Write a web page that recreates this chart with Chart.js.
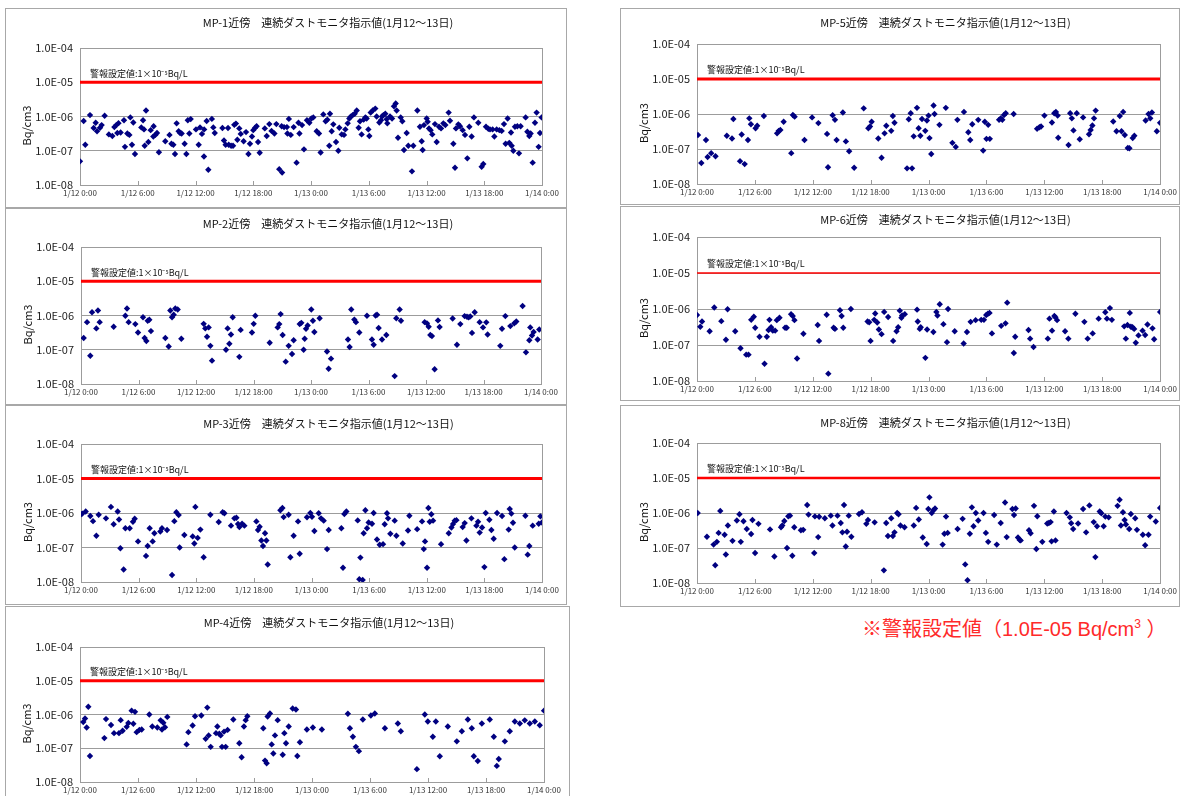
<!DOCTYPE html>
<html lang="ja">
<head>
<meta charset="utf-8">
<title>連続ダストモニタ指示値</title>
<script src="https://cdn.jsdelivr.net/npm/chart.js@4.4.1/dist/chart.umd.min.js"></script>
<style>
  html, body { margin: 0; padding: 0; background: #fff; }
  body { width: 1182px; height: 796px; position: relative; overflow: hidden; font-family: "Noto Sans CJK JP", sans-serif; }
  .panel { position: absolute; outline: 1px solid #a8a8a8; outline-offset: -1px; background: #fff; }
  .panel canvas { position: absolute; left: 0; top: 0; }
  #note { position: absolute; left: 862px; top: 618px; font-family: "Liberation Sans", "Noto Sans CJK JP", sans-serif; font-size: 20px; line-height: 1; color: #ff2a2a; white-space: nowrap; }
  #note sup { font-size: 12px; vertical-align: 8px; }
</style>
</head>
<body>
<div id="note">※警報設定値（1.0E-05 Bq/cm<sup>3</sup> ）</div>
<script>
// DATA
// -----------------------------------------------------------------------------
// x = hours since 1/12 0:00, y = Bq/cm3
var xTickLabels = ['1/12 0:00', '1/12 6:00', '1/12 12:00', '1/12 18:00', '1/13 0:00',
                   '1/13 6:00', '1/13 12:00', '1/13 18:00', '1/14 0:00'];
var yTickValues = [1e-8, 1e-7, 1e-6, 1e-5, 1e-4];
var yTickLabels = ['1.0E-08', '1.0E-07', '1.0E-06', '1.0E-05', '1.0E-04'];
var xRange = [0, 48];
var alarmLevel = 1e-5;
var alarmText = '警報設定値:1×10⁻⁵Bq/L';
var titleText = '近傍　連続ダストモニタ指示値(1月12～13日)';

var mp1 = [[0,4.9e-8],[0.38,7.4e-7],[0.55,1.5e-7],[1.04,1.1e-6],[1.42,4.6e-7],[1.63,6.6e-7],[1.77,3.7e-7],[2.08,4.7e-7],[2.25,5.6e-7],[2.56,1.05e-6],
  [3.0,3.0e-7],[3.36,2.7e-7],[3.57,4.9e-7],[3.77,5.6e-7],[3.88,3.3e-7],[4.0,6.4e-7],[4.22,3.4e-7],[4.57,7.8e-7],[4.67,1.3e-7],[4.92,3.2e-7],
  [5.13,2.9e-7],[5.23,9.4e-7],[5.4,1.5e-7],[5.54,6.7e-7],[5.71,8.0e-8],[6.37,4.8e-7],[6.55,7.8e-7],[6.65,4.2e-7],[6.72,1.4e-7],[6.86,1.5e-6],
  [7.1,1.8e-7],[7.34,4.0e-7],[7.62,2.6e-7],[7.65,5.2e-7],[7.83,2.9e-7],[8.0,3.3e-7],[8.2,9.0e-8],[8.86,1.9e-7],[9.3,2.9e-7],[9.5,1.6e-7],
  [9.7,1.5e-7],[9.87,8.0e-8],[10.04,6.3e-7],[10.25,3.7e-7],[10.4,3.3e-7],[10.56,3.2e-7],[10.87,1.6e-7],[11.05,8.0e-8],[11.2,7.8e-7],[11.36,3.2e-7],
  [11.5,8.4e-7],[12.05,4.2e-7],[12.33,1.5e-7],[12.47,4.8e-7],[12.67,3.1e-7],[12.88,6.8e-8],[12.9,4.2e-7],[13.16,7.4e-7],[13.33,2.8e-8],[13.7,8.5e-7],
  [13.85,4.8e-7],[14.0,3.3e-7],[14.8,4.6e-7],[14.96,2.0e-7],[15.13,1.5e-7],[15.38,4.6e-7],[15.45,1.5e-7],[15.7,1.4e-7],[15.9,1.4e-7],[16.03,5.7e-7],
  [16.2,6.2e-7],[16.35,2.1e-7],[16.55,4.5e-7],[16.7,3.1e-7],[17.0,1.9e-7],[17.25,3.5e-7],[17.5,8.0e-8],[17.66,1.6e-7],[17.87,2.6e-7],[18.0,4.0e-7],
  [18.2,4.7e-7],[18.35,5.2e-7],[18.5,1.8e-7],[18.67,8.7e-8],[19.2,4.5e-7],[19.4,2.7e-7],[19.67,6.0e-7],[19.9,3.8e-7],[20.2,3.2e-7],[20.4,6.0e-7],
  [20.7,2.9e-8],[20.95,5.2e-7],[21.0,2.3e-8],[21.2,4.9e-7],[21.5,4.9e-7],[21.55,3.2e-7],[21.7,8.5e-7],[21.9,2.9e-7],[22.2,4.9e-7],[22.5,4.5e-8],
  [22.7,6.6e-7],[22.8,3.2e-7],[23.07,5.6e-7],[23.27,1.1e-7],[23.58,7.8e-7],[23.83,6.6e-7],[24.04,8.7e-7],[24.24,9.4e-7],[24.59,3.7e-7],[24.83,3.2e-7],
  [25.0,8.9e-8],[25.28,1.15e-6],[25.52,7.3e-7],[25.7,8.1e-7],[25.9,1.4e-7],[25.97,1.2e-6],[26.15,3.7e-7],[26.32,5.9e-7],[26.6,1.8e-7],[26.84,1.0e-7],
  [26.94,4.7e-7],[27.19,3.0e-7],[27.43,2.9e-7],[27.57,4.2e-7],[27.81,6.3e-7],[27.98,8.7e-7],[28.12,9.8e-7],[28.33,1.1e-6],[28.54,1.2e-6],[28.75,1.5e-6],
  [28.95,4.7e-7],[29.09,7.3e-7],[29.26,3.0e-7],[29.47,8.1e-7],[29.65,9.4e-7],[29.78,8.7e-7],[29.96,4.2e-7],[30.06,2.7e-7],[30.2,1.3e-6],[30.41,1.5e-6],
  [30.68,1.7e-6],[30.82,1.0e-6],[31.1,6.7e-7],[31.27,7.8e-7],[31.38,1.0e-6],[31.52,1.1e-6],[31.72,1.2e-6],[31.86,8.3e-7],[31.93,6.3e-7],[32.21,1.0e-6],
  [32.42,8.7e-7],[32.62,2.0e-6],[32.8,2.4e-6],[32.9,1.5e-6],[33.04,2.4e-7],[33.32,9.4e-7],[33.49,7.3e-7],[33.66,1.05e-7],[33.94,3.3e-7],[34.11,1.4e-7],
  [34.49,2.5e-8],[34.63,1.4e-7],[35.05,1.5e-6],[35.32,5.0e-7],[35.5,1.9e-7],[35.6,1.05e-7],[35.74,5.6e-7],[36.02,8.7e-7],[36.12,7.0e-7],[36.26,4.5e-7],
  [36.43,4.0e-7],[36.6,3.0e-7],[36.88,6.0e-7],[37.06,1.8e-7],[37.3,5.0e-7],[37.51,4.5e-7],[37.75,6.3e-7],[37.96,5.6e-7],[38.3,1.3e-6],[38.44,7.5e-7],
  [38.79,1.6e-7],[38.96,3.2e-8],[39.06,4.5e-7],[39.31,5.9e-7],[39.48,5.2e-7],[39.76,4.0e-7],[40.0,2.9e-7],[40.24,6.0e-8],[40.45,5.0e-7],[40.69,2.6e-7],
  [40.93,9.4e-7],[41.38,6.6e-7],[41.73,3.4e-8],[41.9,4.1e-8],[42.18,5.0e-7],[42.42,4.4e-7],[42.6,4.2e-7],[42.87,4.2e-7],[43.05,2.6e-7],[43.29,4.2e-7],
  [43.57,4.0e-7],[43.81,3.8e-7],[44.05,6.0e-7],[44.22,1.6e-7],[44.43,8.7e-7],[44.6,1.7e-7],[44.78,3.4e-7],[44.85,1.4e-7],[45.02,1.0e-7],[45.19,5.0e-7],
  [45.44,5.2e-7],[45.61,8.4e-8],[45.78,5.2e-7],[46.3,9.4e-7],[46.48,3.6e-7],[46.68,2.7e-7],[46.82,3.2e-7],[47.03,4.5e-8],[47.27,6.6e-7],[47.44,1.3e-6],
  [47.65,1.3e-7],[47.79,3.3e-7],[47.96,9.4e-7]];

var mp2 = [[0.28,2.2e-7],[0.63,6.4e-7],[0.97,6.7e-8],[1.15,1.25e-6],[1.6,4.2e-7],[1.77,1.4e-6],[1.95,6.4e-7],[3.41,4.7e-7],[4.63,9.8e-7],[4.8,1.6e-6],
  [4.97,6.4e-7],[5.67,5.6e-7],[5.95,3.2e-7],[6.47,8.9e-7],[6.64,2.2e-7],[6.82,1.8e-7],[6.96,7.0e-7],[7.13,7.5e-7],[7.3,3.5e-7],[8.8,2.2e-7],
  [9.15,1.25e-7],[9.32,1.4e-6],[9.5,8.9e-7],[9.67,1.05e-6],[9.84,1.6e-6],[10.09,1.5e-6],[10.47,2.1e-7],[12.8,5.7e-7],[12.97,4.2e-7],[13.15,2.4e-7],
  [13.32,4.5e-7],[13.5,1.3e-7],[13.67,4.8e-8],[15.13,1.0e-7],[15.3,4.2e-7],[15.48,1.5e-7],[15.65,2.8e-7],[15.83,8.9e-7],[16.52,6.2e-8],[16.66,3.8e-7],
  [17.84,3.2e-7],[18.02,5.7e-7],[18.19,9.8e-7],[19.69,1.6e-7],[20.52,4.5e-7],[20.69,5.6e-7],[20.83,1.1e-6],[21.04,2.7e-7],[21.36,4.5e-8],[21.67,1.3e-7],
  [22.02,7.5e-8],[22.19,1.9e-7],[22.82,5.6e-7],[22.99,6.1e-7],[23.23,1.0e-7],[23.34,2.1e-7],[23.48,4.1e-7],[23.65,5.1e-7],[24.03,1.5e-6],[24.2,7.0e-7],
  [24.35,3.3e-7],[24.9,8.3e-7],[25.67,8.9e-8],[25.84,2.8e-8],[26.09,5.5e-8],[27.86,2.0e-7],[28.03,1.2e-7],[28.2,1.5e-6],[28.52,7.6e-7],[28.69,6.4e-7],
  [29.04,3.2e-7],[29.84,9.8e-7],[30.36,2.0e-7],[30.54,1.4e-7],[30.74,1.0e-6],[30.89,1.05e-6],[31.06,4.3e-7],[31.41,2.0e-7],[31.86,2.7e-7],[32.73,1.7e-8],
  [32.9,8.3e-7],[33.25,1.5e-6],[33.39,7.0e-7],[35.86,6.4e-7],[36.1,5.9e-7],[36.28,4.7e-7],[36.45,2.7e-7],[36.62,2.5e-7],[36.9,2.7e-8],[37.25,7.2e-7],
  [37.42,4.6e-7],[38.78,8.2e-7],[39.23,1.4e-7],[39.58,5.6e-7],[40.03,9.6e-7],[40.28,9.2e-7],[40.45,8.8e-7],[40.62,9.4e-7],[40.8,3.1e-7],[41.08,1.25e-6],
  [41.6,6.4e-7],[41.95,4.5e-7],[42.29,6.3e-7],[42.43,2.8e-7],[43.75,1.3e-7],[43.93,4.1e-7],[44.28,9.6e-7],[44.8,4.9e-7],[45.21,5.9e-7],[45.42,6.7e-7],
  [46.08,1.9e-6],[46.43,8.4e-8],[46.78,1.9e-7],[46.88,4.5e-7],[47.06,2.6e-7],[47.23,3.3e-7],[47.65,2.0e-7],[47.82,3.9e-7]];

var mp3 = [[0,9.2e-7],[0.14,9.6e-7],[0.49,1.1e-6],[0.97,8.2e-7],[1.25,5.8e-7],[1.6,2.2e-7],[1.84,8.9e-7],[2.6,7.0e-7],[3.12,1.5e-6],[3.4,4.7e-7],
  [3.82,1.1e-6],[3.96,6.5e-7],[4.1,9.5e-8],[4.44,2.3e-8],[4.62,3.6e-7],[5.07,3.6e-7],[5.41,5.6e-7],[5.59,6.8e-7],[5.94,1.5e-7],[6.77,5.7e-8],
  [6.94,1.1e-7],[7.15,3.6e-7],[7.46,1.5e-7],[7.64,2.6e-7],[8.26,2.9e-7],[8.43,3.6e-7],[8.96,3.2e-7],[9.48,1.6e-8],[9.72,5.8e-7],[9.93,1.05e-6],
  [10.17,8.7e-7],[10.27,1.0e-7],[10.76,2.3e-7],[11.63,2.1e-7],[11.8,1.3e-7],[11.91,1.5e-6],[12.15,1.9e-7],[12.43,3.3e-7],[12.77,5.2e-8],[13.47,8.9e-7],
  [14.34,5.5e-7],[14.75,1.05e-6],[14.93,9.8e-7],[15.62,4.3e-7],[15.97,7.0e-7],[16.18,7.3e-7],[16.35,4.8e-7],[16.49,3.9e-7],[16.77,4.9e-7],[17.01,4.3e-7],
  [18.26,5.7e-7],[18.43,3.2e-7],[18.6,4.0e-7],[18.78,1.6e-7],[18.95,1.1e-7],[19.16,2.6e-7],[19.3,1.6e-7],[19.44,3.2e-8],[20.76,1.2e-6],[20.97,1.4e-6],
  [21.1,7.6e-7],[21.62,8.9e-7],[21.8,5.2e-8],[22.14,2.2e-7],[22.6,5.7e-7],[22.77,6.6e-8],[23.53,7.5e-7],[23.88,1.0e-6],[24.05,7.8e-7],[24.3,3.0e-7],
  [24.75,9.8e-7],[24.99,7.0e-7],[25.27,6.0e-7],[25.62,9.0e-8],[25.79,3.2e-7],[27.11,3.6e-7],[27.28,2.6e-8],[27.42,9.4e-7],[27.63,1.1e-6],[28.81,6.1e-7],
  [28.98,1.2e-8],[29.09,5.1e-8],[29.33,1.15e-8],[29.43,2.6e-7],[29.61,1.2e-6],[29.78,3.6e-7],[29.95,5.3e-7],[30.3,4.9e-7],[30.47,1.0e-6],[30.82,1.7e-7],
  [31.1,1.2e-7],[31.45,1.25e-7],[31.62,4.7e-7],[31.86,9.8e-7],[31.97,7.0e-7],[32.21,2.5e-7],[32.66,6.0e-7],[32.84,2.2e-7],[33.5,1.3e-7],[34.05,3.1e-7],
  [34.19,8.3e-7],[35.0,3.4e-7],[35.51,5.7e-7],[35.69,9.0e-8],[35.82,1.5e-7],[36.03,2.6e-8],[36.17,1.4e-6],[36.31,5.6e-7],[36.48,9.2e-7],[36.66,6.0e-7],
  [37.49,1.25e-7],[38.29,2.6e-7],[38.57,3.8e-7],[38.74,4.8e-7],[38.91,6.0e-7],[39.09,6.2e-7],[39.74,3.9e-7],[39.95,5.1e-7],[40.13,1.6e-7],[40.65,7.0e-7],
  [41.17,4.3e-7],[41.34,5.6e-7],[41.51,2.7e-7],[41.76,3.8e-7],[42.0,2.7e-8],[42.14,1.0e-6],[42.52,6.4e-7],[42.73,3.2e-7],[42.97,1.8e-7],[43.32,1.0e-6],
  [43.84,8.2e-7],[44.08,4.6e-8],[44.53,3.3e-7],[44.64,1.3e-6],[44.81,9.6e-7],[44.98,5.2e-7],[45.16,1.0e-7],[46.27,8.3e-7],[46.51,6.2e-8],[46.68,1.1e-7],
  [47.03,4.3e-7],[47.66,4.9e-7],[47.83,8.0e-7],[48,5.3e-7]];

var mp4 = [[0.34,6.0e-7],[0.52,7.6e-7],[0.69,4.1e-7],[0.86,1.7e-6],[1.03,5.9e-8],[2.52,2.0e-7],[2.69,7.3e-7],[3.21,4.9e-7],[3.52,2.8e-7],[4.03,2.8e-7],
  [4.21,6.8e-7],[4.41,3.3e-7],[4.83,4.3e-7],[5.0,5.6e-7],[5.34,1.3e-6],[5.52,5.3e-7],[5.69,1.2e-6],[5.86,3.0e-7],[6.14,3.5e-7],[6.38,3.6e-7],
  [7.17,1.0e-6],[7.48,4.4e-7],[8.0,4.1e-7],[8.34,6.7e-7],[8.48,3.6e-7],[8.62,5.7e-7],[8.79,4.2e-7],[9.03,8.5e-7],[11.03,1.3e-7],[11.21,3.0e-7],
  [11.65,4.7e-7],[11.9,8.9e-7],[12.55,9.3e-7],[13.0,1.9e-7],[13.17,1.6e-6],[13.31,2.4e-7],[13.52,1.1e-7],[14.07,2.8e-7],[14.21,4.4e-7],[14.41,2.7e-7],
  [14.55,2.4e-7],[14.69,1.1e-7],[14.9,3.1e-7],[15.07,1.1e-7],[15.27,3.5e-7],[15.86,7.1e-7],[16.48,1.4e-7],[16.72,5.4e-8],[16.96,4.4e-7],[17.14,6.8e-7],
  [17.31,8.9e-7],[18.96,3.9e-7],[19.14,4.3e-8],[19.31,3.6e-8],[19.41,8.7e-7],[19.65,1.07e-6],[19.83,1.3e-7],[20.0,7.0e-8],[20.17,2.4e-7],[20.45,6.8e-7],
  [20.97,6.4e-8],[21.14,2.8e-7],[21.31,1.4e-7],[21.59,4.4e-7],[22.0,1.5e-6],[22.34,1.4e-6],[22.48,5.9e-8],[22.75,1.5e-7],[23.47,3.6e-7],[24.09,4.1e-7],
  [25.02,3.6e-7],[27.71,1.05e-6],[27.92,3.9e-7],[28.23,2.2e-7],[28.54,1.1e-7],[28.85,8.2e-8],[29.26,7.1e-7],[30.09,9.3e-7],[30.5,1.07e-6],[31.54,3.9e-7],
  [32.88,5.4e-7],[33.19,3.2e-7],[34.85,2.4e-8],[35.67,1.0e-6],[35.98,6.2e-7],[36.5,2.2e-7],[36.81,6.2e-7],[37.22,5.8e-8],[38.05,4.4e-7],[38.98,1.6e-7],
  [39.5,3.2e-7],[40.12,7.1e-7],[40.53,3.9e-7],[40.74,5.8e-8],[41.15,4.2e-8],[41.57,5.4e-7],[42.39,7.1e-7],[42.81,2.2e-7],[43.12,3.0e-8],[43.32,4.8e-8],
  [43.95,1.6e-7],[44.46,3.2e-7],[44.98,6.2e-7],[45.5,5.4e-7],[46.01,6.7e-7],[46.53,5.4e-7],[47.05,6.2e-7],[47.56,4.8e-7],[48,1.3e-6]];

var mp5 = [[0.1,2.5e-7],[0.45,4.0e-8],[0.93,1.8e-7],[1.1,5.9e-8],[1.47,7.6e-8],[1.92,6.2e-8],[3.09,2.4e-7],[3.63,2.0e-7],[3.77,7.2e-7],[4.46,4.5e-8],
  [4.63,2.6e-7],[4.94,3.7e-8],[5.28,1.8e-7],[5.42,7.5e-7],[5.59,5.1e-7],[6.07,3.9e-7],[6.24,4.6e-7],[6.93,8.8e-7],[8.3,2.8e-7],[8.47,3.3e-7],
  [8.64,3.5e-7],[8.98,6.0e-7],[9.77,7.6e-8],[9.94,9.4e-7],[10.12,8.4e-7],[11.14,1.8e-7],[11.93,8.0e-7],[12.58,5.5e-7],[13.48,2.7e-7],[13.58,3.0e-8],
  [14.06,9.2e-7],[14.3,6.8e-7],[14.47,1.8e-7],[15.12,1.1e-6],[15.43,1.65e-7],[15.77,8.6e-8],[16.29,2.9e-8],[17.28,1.45e-6],[17.76,3.9e-7],[17.93,4.4e-7],
  [18.1,6.0e-7],[18.79,2.0e-7],[19.13,5.6e-8],[19.44,2.8e-7],[19.62,4.6e-7],[20.13,3.3e-7],[20.3,8.8e-7],[20.47,5.6e-7],[21.77,2.8e-8],[21.95,7.1e-7],
  [22.15,1.05e-6],[22.29,2.8e-8],[22.46,2.3e-7],[22.8,1.5e-6],[22.97,3.9e-7],[23.15,2.4e-7],[23.32,7.2e-7],[23.66,3.3e-7],[23.83,6.5e-7],[24.0,9.0e-7],
  [24.1,2.05e-7],[24.28,7.2e-8],[24.52,1.75e-6],[24.62,1.0e-6],[25.13,4.9e-7],[25.79,1.5e-6],[26.47,1.5e-7],[26.82,1.15e-7],[26.99,6.8e-7],[27.67,1.15e-6],
  [28.12,3.0e-7],[28.32,1.8e-7],[28.53,5.1e-7],[29.15,6.8e-7],[29.66,9.0e-8],[29.83,6.0e-7],[30.0,1.95e-7],[30.18,4.9e-7],[30.35,1.95e-7],[31.31,6.8e-7],
  [31.48,7.5e-7],[31.65,6.8e-7],[31.82,9.4e-7],[32.0,1.05e-6],[32.82,1.0e-6],[35.25,3.8e-7],[35.49,4.2e-7],[35.66,4.4e-7],[36.01,9.0e-7],[36.79,5.7e-7],
  [37.03,1.05e-6],[37.2,1.15e-6],[37.38,9.0e-7],[37.44,2.1e-7],[38.51,1.3e-7],[38.68,1.05e-6],[38.85,7.5e-7],[39.02,3.4e-7],[39.36,1.05e-6],[39.67,1.9e-7],
  [40.02,8.0e-7],[40.63,2.65e-7],[40.8,3.5e-7],[40.98,4.7e-7],[41.15,7.5e-7],[41.32,1.25e-6],[43.14,6.1e-7],[43.48,3.2e-7],[43.82,8.8e-7],[44.0,3.2e-7],
  [44.17,1.15e-6],[44.34,2.5e-7],[44.65,1.07e-7],[44.82,1.05e-7],[45.16,2.05e-7],[45.33,2.4e-7],[46.5,6.5e-7],[46.8,1.0e-6],[46.98,7.5e-7],[47.15,1.1e-6],
  [47.66,3.2e-7],[48,5.6e-7]];

var mp6 = [[0,6.8e-7],[0.34,3.2e-7],[0.52,4.5e-7],[1.31,2.4e-7],[1.79,1.1e-6],[2.52,4.6e-7],[3.0,1.4e-7],[3.17,9.8e-7],[3.96,2.4e-7],[4.51,8.1e-8],
  [5.1,5.4e-8],[5.34,5.4e-8],[5.62,5.0e-7],[5.89,6.1e-7],[6.03,3.0e-7],[6.48,1.7e-7],[7.0,3.0e-8],[7.24,1.7e-7],[7.41,2.6e-7],[7.51,5.0e-7],
  [7.68,3.1e-7],[7.86,2.5e-7],[8.1,2.5e-7],[8.27,4.9e-7],[8.55,5.7e-7],[9.13,3.0e-7],[9.3,3.0e-7],[9.75,7.2e-7],[9.92,6.4e-7],[10.1,4.9e-7],
  [10.37,4.2e-8],[11.03,2.05e-7],[12.51,3.6e-7],[12.65,1.3e-7],[13.44,6.9e-7],[13.61,1.6e-8],[14.16,3.0e-7],[14.3,2.8e-7],[14.82,9.2e-7],[14.99,6.4e-7],
  [15.16,3.0e-7],[15.95,1.0e-6],[17.68,4.5e-7],[17.85,4.3e-7],[17.99,1.3e-7],[18.37,5.0e-7],[18.47,7.5e-7],[18.68,4.2e-7],[18.85,2.7e-7],[19.13,2.0e-7],
  [19.4,8.3e-7],[19.81,6.0e-7],[20.33,1.3e-7],[20.68,2.4e-7],[20.85,3.1e-7],[21.02,9.0e-7],[21.19,5.7e-7],[21.26,6.6e-7],[21.54,7.2e-7],[22.81,9.6e-7],
  [22.88,4.5e-7],[23.09,2.8e-7],[23.19,3.1e-7],[23.67,4.4e-8],[23.85,2.7e-7],[24.5,2.3e-7],[24.81,8.3e-7],[24.92,6.6e-7],[25.16,1.35e-6],[25.54,3.8e-7],
  [25.91,1.2e-7],[26.02,1.0e-6],[26.71,2.4e-7],[27.64,1.1e-7],[27.98,2.3e-7],[28.36,4.4e-7],[28.88,4.9e-7],[29.46,5.0e-7],[29.74,5.0e-7],[29.98,6.8e-7],
  [30.15,7.4e-7],[30.32,7.8e-7],[30.57,2.1e-7],[31.53,3.4e-7],[31.98,4.0e-7],[32.15,1.5e-6],[32.84,6.0e-8],[32.98,1.7e-7],[34.36,2.6e-7],[34.53,1.5e-7],
  [34.88,8.8e-8],[36.36,1.5e-7],[36.53,5.4e-7],[36.8,2.5e-7],[37.04,6.4e-7],[37.15,5.9e-7],[37.32,4.9e-7],[38.15,2.4e-7],[38.49,1.5e-7],[39.22,7.4e-7],
  [40.15,4.4e-7],[40.49,1.5e-7],[41.01,2.1e-7],[41.63,5.4e-7],[42.32,8.1e-7],[42.49,5.4e-7],[42.8,1.06e-6],[43.0,5.0e-7],[44.28,3.3e-7],[44.45,1.5e-7],
  [44.62,3.6e-7],[44.86,7.8e-7],[44.97,3.2e-7],[45.14,3.1e-7],[45.31,2.8e-7],[45.48,1.15e-7],[45.76,1.85e-7],[46.18,2.5e-7],[46.45,1.9e-7],[46.69,3.7e-7],
  [47.21,2.9e-7],[47.38,1.45e-7],[48,8.3e-7]];

var mp8 = [[0.07,1.0e-6],[1.03,2.1e-7],[1.72,1.25e-7],[1.89,3.2e-8],[2.06,1.5e-7],[2.24,2.7e-7],[2.41,1.15e-6],[2.86,2.4e-7],[2.99,6.5e-8],[3.2,4.4e-7],
  [3.68,1.6e-7],[4.13,6.1e-7],[4.4,9.2e-7],[4.54,1.5e-7],[4.82,5.8e-7],[5.16,3.5e-7],[5.61,2.5e-7],[5.75,6.3e-7],[6.02,7.2e-8],[6.37,4.9e-7],
  [7.57,3.4e-7],[8.02,5.7e-8],[8.71,3.9e-7],[8.84,4.4e-7],[9.05,5.9e-7],[9.33,1.0e-7],[9.46,8.1e-7],[9.64,8.4e-7],[9.88,6.0e-8],[10.08,3.9e-7],
  [10.77,3.2e-7],[11.01,3.3e-7],[11.42,1.7e-6],[11.56,9.0e-7],[12.15,7.2e-8],[12.22,8.0e-7],[12.56,2.05e-7],[12.66,7.8e-7],[13.25,7.1e-7],[13.87,8.4e-7],
  [14.04,4.4e-7],[14.56,8.4e-7],[14.9,5.2e-7],[15.07,2.8e-7],[15.24,1.7e-6],[15.42,1.1e-7],[15.55,2.9e-7],[15.73,8.4e-7],[16.0,2.1e-7],[16.79,9.4e-7],
  [17.1,1.05e-6],[17.55,4.9e-7],[17.72,6.3e-7],[18.41,5.4e-7],[19.37,2.3e-8],[19.61,5.2e-7],[19.79,2.2e-7],[20.13,7.1e-7],[20.3,2.2e-7],[20.47,2.8e-7],
  [20.75,1.0e-6],[20.89,9.2e-7],[21.09,4.4e-7],[21.51,3.9e-7],[22.47,4.4e-7],[22.71,1.4e-6],[22.99,6.5e-7],[23.4,2.0e-7],[23.81,1.3e-7],[23.98,1.3e-6],
  [24.09,2.8e-6],[24.33,1.0e-6],[24.5,1.2e-6],[24.67,1.35e-6],[25.46,1.25e-7],[25.64,2.55e-7],[25.81,7.9e-7],[25.98,2.7e-7],[27.01,3.5e-7],[27.53,6.8e-7],
  [27.8,3.4e-8],[28.04,1.2e-8],[28.28,2.55e-7],[28.49,1.45e-6],[28.66,4.2e-7],[28.9,1.0e-6],[29.15,6.1e-7],[29.7,1.0e-6],[29.94,2.7e-7],[30.18,1.5e-7],
  [30.8,8.8e-7],[31.07,1.25e-7],[31.48,5.2e-7],[31.93,2.0e-6],[32.1,2.05e-7],[32.69,1.3e-6],[32.86,8.8e-7],[33.03,1.35e-6],[33.27,2.0e-7],[33.45,1.7e-7],
  [33.55,1.65e-7],[34.41,3.2e-7],[34.58,2.65e-7],[34.93,1.6e-6],[35.17,9.4e-8],[35.27,8.1e-7],[35.79,1.5e-7],[36.3,5.0e-7],[36.47,5.2e-7],[36.65,5.5e-7],
  [36.75,1.55e-7],[36.99,1.1e-6],[37.16,1.65e-7],[38.3,1.0e-6],[38.64,7.5e-7],[38.78,5.1e-7],[38.99,3.5e-7],[39.5,5.0e-7],[40.02,1.3e-6],[40.33,2.8e-7],
  [40.67,1.65e-6],[41.12,5.5e-7],[41.29,5.5e-8],[41.46,4.2e-7],[41.74,1.1e-6],[41.91,9.8e-7],[42.15,4.2e-7],[42.32,7.9e-7],[42.67,7.5e-7],[43.59,1.6e-6],
  [43.8,2.4e-6],[43.94,4.4e-7],[44.15,1.05e-6],[44.32,6.3e-7],[44.46,4.7e-7],[44.8,3.5e-7],[44.97,9.4e-7],[45.42,7.1e-7],[45.6,3.3e-7],[46.21,2.4e-7],
  [46.45,1.2e-7],[46.8,2.4e-7],[46.97,7.9e-7],[47.55,5.7e-7],[48,1.4e-6]];

// LAYOUT (page pixels): box = [left, top, width, height], plot = [left, top, right, bottom]
// -----------------------------------------------------------------------------
var panels = [
  { name: 'MP-1', data: mp1, box: [5, 8, 562, 200],   plot: [80, 48, 542, 185],    titleY: 15, red: 3 },
  { name: 'MP-2', data: mp2, box: [5, 208, 562, 197], plot: [81, 247, 541, 384],   titleY: 16, red: 3 },
  { name: 'MP-3', data: mp3, box: [5, 405, 562, 200], plot: [81, 444, 542, 582],   titleY: 19, red: 3 },
  { name: 'MP-4', data: mp4, box: [5, 606, 565, 200], plot: [80, 647, 544, 782],   titleY: 17, red: 3 },
  { name: 'MP-5', data: mp5, box: [620, 8, 560, 197], plot: [697, 44, 1163, 184],  titleY: 15, red: 3 },
  { name: 'MP-6', data: mp6, box: [620, 206, 560, 195], plot: [697, 237, 1161, 381], titleY: 14, red: 1.5 },
  { name: 'MP-8', data: mp8, box: [620, 405, 560, 202], plot: [697, 443, 1162, 583], titleY: 18, red: 2.5 }
];

var X_AXIS_H = 16;
var GRID = '#9c9c9c';
Chart.defaults.font.family = '"Noto Sans CJK JP", "Noto Sans", sans-serif';

// titles, y-axis caption, alarm note, plot frame
var panelDeco = {
  id: 'panelDeco',
  afterDraw: function(chart, args, opts) {
    var ctx = chart.ctx, a = chart.chartArea, xs = chart.scales.x, ys = chart.scales.y;
    ctx.save();
    ctx.strokeStyle = GRID;
    ctx.lineWidth = 1;
    ctx.beginPath();
    var rx = Math.round(a.right) + 0.5;
    ctx.moveTo(rx, a.top);
    ctx.lineTo(rx, a.bottom);
    xs.ticks.forEach(function(t) {
      var px = Math.round(xs.getPixelForValue(t.value)) + 0.5;
      ctx.moveTo(px, a.bottom);
      ctx.lineTo(px, a.bottom - 4);
    });
    ctx.stroke();

    ctx.fillStyle = '#111';
    ctx.textBaseline = 'middle';
    ctx.font = '11px "Noto Sans CJK JP"';
    ctx.textAlign = 'center';
    ctx.fillText(opts.title, (a.left + a.right) / 2 + 17, opts.titleY);

    ctx.font = '9px "Noto Sans CJK JP"';
    ctx.textAlign = 'left';
    ctx.fillText(alarmText, a.left + 10, ys.getPixelForValue(alarmLevel) - 9);

    ctx.translate(a.left - 53, (a.top + a.bottom) / 2 + 9);
    ctx.rotate(-Math.PI / 2);
    ctx.font = '11px "Noto Sans CJK JP"';
    ctx.textAlign = 'center';
    ctx.fillText('Bq/cm3', 0, 0);
    ctx.restore();
  }
};

panels.forEach(function(p) {
  var div = document.createElement('div');
  div.className = 'panel';
  div.style.left = p.box[0] + 'px';
  div.style.top = p.box[1] + 'px';
  div.style.width = p.box[2] + 'px';
  div.style.height = p.box[3] + 'px';
  var cv = document.createElement('canvas');
  cv.width = p.box[2];
  cv.height = p.box[3];
  div.appendChild(cv);
  document.body.appendChild(div);

  var yAxisW = p.plot[0] - p.box[0];
  new Chart(cv, {
    type: 'scatter',
    data: {
      datasets: [{
        type: 'line',
        data: xRange.map(function(h) { return { x: h, y: alarmLevel }; }),
        borderColor: '#ff0000',
        borderWidth: p.red,
        pointRadius: 0,
        order: 1
      }, {
        data: p.data.map(function(d) { return { x: d[0], y: d[1] }; }),
        pointStyle: 'rectRot',
        pointRadius: 3.2,
        backgroundColor: '#000080',
        borderWidth: 0,
        order: 0
      }]
    },
    options: {
      responsive: false,
      animation: false,
      events: [],
      layout: {
        autoPadding: false,
        padding: {
          left: 0,
          top: p.plot[1] - p.box[1],
          right: p.box[0] + p.box[2] - p.plot[2],
          bottom: p.box[1] + p.box[3] - p.plot[3] - X_AXIS_H
        }
      },
      plugins: {
        legend: { display: false },
        tooltip: { enabled: false },
        title: { display: false },
        panelDeco: { title: p.name + titleText, titleY: p.titleY }
      },
      scales: {
        x: {
          type: 'linear',
          min: xRange[0],
          max: xRange[1],
          afterFit: function(s) { s.height = X_AXIS_H; },
          ticks: {
            stepSize: 6,
            autoSkip: false,
            maxRotation: 0,
            padding: 3,
            color: '#333',
            font: { size: 8 },
            callback: function(v, i) { return xTickLabels[i]; }
          },
          grid: { display: false, drawTicks: false },
          border: { color: GRID }
        },
        y: {
          type: 'logarithmic',
          min: yTickValues[0],
          max: yTickValues[yTickValues.length - 1],
          afterFit: function(s) { s.width = yAxisW; },
          afterBuildTicks: function(s) {
            s.ticks = yTickValues.map(function(v) { return { value: v }; });
          },
          ticks: {
            autoSkip: false,
            padding: 7,
            color: '#222',
            font: { size: 11 },
            callback: function(v, i) { return yTickLabels[i]; }
          },
          grid: { color: GRID, drawTicks: false },
          border: { color: GRID }
        }
      }
    },
    plugins: [panelDeco]
  });
});
</script>
</body>
</html>
